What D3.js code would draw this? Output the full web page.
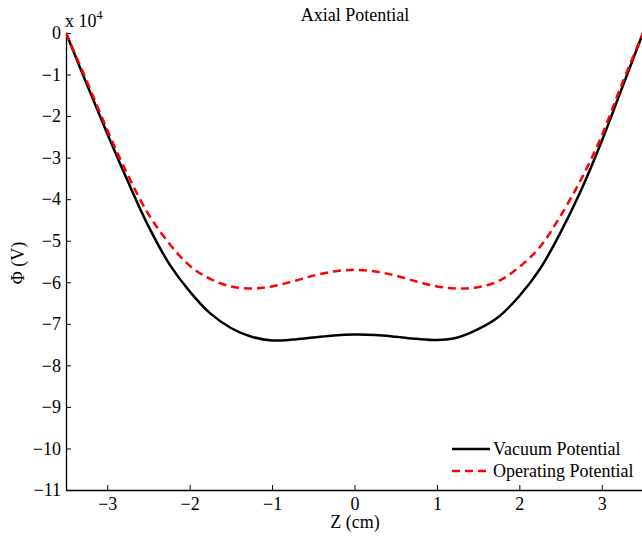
<!DOCTYPE html>
<html><head><meta charset="utf-8">
<script src="https://cdn.jsdelivr.net/npm/d3@7"></script>
<style>
html,body{margin:0;padding:0;background:#fff;}
text{font-family:"Liberation Serif","Times New Roman",serif;}
</style></head>
<body>
<svg id="chart" width="642" height="536"></svg>
<script>
const zValues = [-3.5,-3.25,-3.0,-2.75,-2.5,-2.25,-2.0,-1.75,-1.5,-1.25,-1.0,-0.75,-0.5,-0.25,0,0.25,0.5,0.75,1.0,1.25,1.5,1.75,2.0,2.25,2.5,2.75,3.0,3.25,3.5];
const vacuumPotential = [0,-1.22,-2.42,-3.57,-4.65,-5.55,-6.22,-6.75,-7.1,-7.31,-7.40,-7.38,-7.33,-7.28,-7.26,-7.27,-7.31,-7.36,-7.39,-7.33,-7.13,-6.83,-6.33,-5.68,-4.8,-3.78,-2.6,-1.3,0];
const operatingPotential = [0,-1.15,-2.33,-3.42,-4.36,-5.06,-5.6,-5.92,-6.1,-6.15,-6.1,-5.98,-5.84,-5.74,-5.70,-5.74,-5.84,-5.98,-6.1,-6.15,-6.12,-5.97,-5.63,-5.15,-4.4,-3.52,-2.47,-1.2,0];
const xTicks = [-3,-2,-1,0,1,2,3];
const yTicks = [0,-1,-2,-3,-4,-5,-6,-7,-8,-9,-10,-11];
const seriesNames = ["Vacuum Potential","Operating Potential"];

(function(){
const svg = d3.select("#chart");
const mL = 66, mR = 643, mT = 33, mB = 490;
const x = d3.scaleLinear().domain([-3.5,3.5]).range([mL,mR]);
const y = d3.scaleLinear().domain([-11,0]).range([mB,mT]);
const fs = 18;
const fmt = d3.format("d");

const xAxis = d3.axisBottom(x).tickValues(xTicks).tickFormat(fmt).tickSizeInner(-5).tickSizeOuter(0).tickPadding(7);
const yAxis = d3.axisLeft(y).tickValues(yTicks).tickFormat(fmt).tickSizeInner(-5).tickSizeOuter(0).tickPadding(5);
const gx = svg.append("g").attr("transform",`translate(0,${mB})`).call(xAxis);
const gy = svg.append("g").attr("transform",`translate(${mL},0)`).call(yAxis);
[gx,gy].forEach(g=>{
  g.select(".domain").attr("stroke","#000").attr("stroke-width",1.3);
  g.selectAll(".tick line").attr("stroke","#000").attr("stroke-width",1);
  g.selectAll(".tick text").attr("font-size",fs).attr("font-family","Liberation Serif, serif").attr("fill","#000");
});

svg.append("clipPath").attr("id","clip").append("rect")
  .attr("x",mL).attr("y",mT-3).attr("width",mR-mL).attr("height",mB-mT+3);
const line = d3.line().x((d,i)=>x(zValues[i])).y(d=>y(d)).curve(d3.curveCatmullRom.alpha(0.5));
svg.append("path").datum(vacuumPotential).attr("d",line).attr("fill","none")
  .attr("stroke","#000").attr("stroke-width",2.5).attr("clip-path","url(#clip)");
svg.append("path").datum(operatingPotential).attr("d",line).attr("fill","none")
  .attr("stroke","#ff0000").attr("stroke-width",2.5).attr("stroke-dasharray","8,5").attr("clip-path","url(#clip)");

svg.append("text").attr("x",355).attr("y",21).attr("text-anchor","middle").attr("font-size",fs).text("Axial Potential");
svg.append("text").attr("x",355).attr("y",528).attr("text-anchor","middle").attr("font-size",fs).text("Z (cm)");
svg.append("text").attr("transform","translate(24,263) rotate(-90)").attr("text-anchor","middle").attr("font-size",fs).text("Φ (V)");
const exp = svg.append("text").attr("x",65).attr("y",27).attr("font-size",fs);
exp.append("tspan").text("x 10");
exp.append("tspan").attr("dy",-8).attr("font-size",12).text("4");

const legend = svg.append("g");
const lg = [{name:seriesNames[0],color:"#000",dash:null,y:449},{name:seriesNames[1],color:"#ff0000",dash:"8,5",y:471}];
lg.forEach(d=>{
  legend.append("line").attr("x1",452).attr("x2",490).attr("y1",d.y).attr("y2",d.y)
    .attr("stroke",d.color).attr("stroke-width",2.5).attr("stroke-dasharray",d.dash);
  legend.append("text").attr("x",493).attr("y",d.y+6).attr("font-size",fs).text(d.name);
});
})();
</script>
</body></html>
